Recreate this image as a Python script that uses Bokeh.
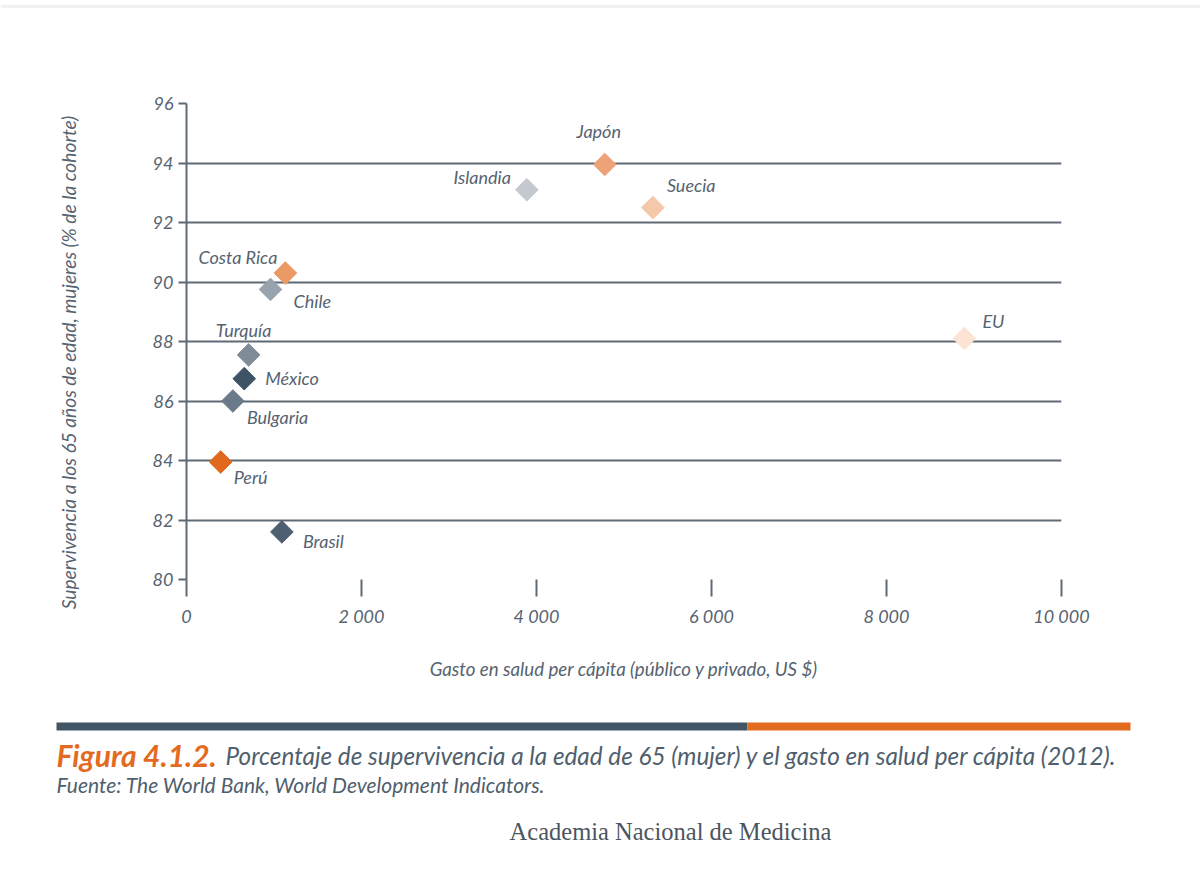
from bokeh.plotting import figure
from bokeh.layouts import column, row
from bokeh.models import ColumnDataSource, FixedTicker, CustomJSTickFormatter, Range1d
from bokeh.core.properties import value
from bokeh.embed import file_html
from bokeh.resources import INLINE
import math

# Data: health spending per capita (US $) vs. female survival to age 65 (% of cohort), 2012
paises = ["Japón", "Islandia", "Suecia", "Costa Rica", "Chile", "EU",
          "Turquía", "México", "Bulgaria", "Perú", "Brasil"]
gasto = [4780, 3890, 5330, 1130, 960, 8890, 710, 660, 530, 390, 1090]
supervivencia = [93.95, 93.1, 92.5, 90.3, 89.75, 88.1, 87.55, 86.75, 86.0, 83.95, 81.6]

x_ticks = [0, 2000, 4000, 6000, 8000, 10000]
y_ticks = [80, 82, 84, 86, 88, 90, 92, 94, 96]

# Marker colours and label placement (pixel offsets / alignment)
colores = ["#eda277", "#c4c9d0", "#f5c8a9", "#ec9a65", "#99a3ad", "#fce3d4",
           "#7f8c98", "#3f5366", "#6b7a88", "#e0691e", "#4d5f70"]
dx = [-6, -16, 14, -8, 23, 18, -5, 21, 14, 13, 21]
dy = [-33, -13, -23, -16, 12, -18, -25, -1, 16, 15, 9]
alin = ["center", "right", "left", "right", "left", "left", "center", "left", "left", "left", "left"]

W = 1200
TOP_H, MAIN_H, CAP_H = 8, 692, 186
STRIP_W = 90

TXT = "#566370"
LINE = "#5e6a74"
FONT = "Lato"


def blank(width, height):
    """A figure whose data coordinates are its own pixels (y grows downward)."""
    f = figure(width=width, height=height, x_range=Range1d(0, width),
               y_range=Range1d(height, 0),
               output_backend="svg", toolbar_location=None,
               x_axis_location=None, y_axis_location=None,
               min_border=0, min_border_left=0, min_border_right=0,
               min_border_top=0, min_border_bottom=0)
    f.frame_align = False
    f.outline_line_color = None
    f.grid.visible = False
    f.background_fill_color = "white"
    f.border_fill_color = "white"
    return f


# thin grey rule across the top of the page
top = blank(W, TOP_H)
top.quad(left=[0], right=[W], top=[0], bottom=[4], fill_color="#f1f1f1", line_color=None)
top.quad(left=[0], right=[W], top=[4], bottom=[6], fill_color="#c4c4c4", line_color=None)

# strip holding the vertical axis title
strip = blank(STRIP_W, MAIN_H)
strip.text(x=[68], y=[354],
           text=["Supervivencia a los 65 años de edad, mujeres (% de la cohorte)"],
           angle=math.pi / 2, text_align="center", text_baseline="middle",
           text_font=value(FONT), text_font_style="italic", text_font_size="19.2px",
           text_color=TXT)

# main scatter chart
p = figure(width=W - STRIP_W, height=MAIN_H, x_range=(0, 10000), y_range=(80, 96),
           output_backend="svg", toolbar_location=None,
           min_border_left=186 - STRIP_W, min_border_right=139,
           min_border_top=95, min_border_bottom=121)
p.frame_align = False
p.outline_line_color = None
p.background_fill_color = "white"
p.border_fill_color = "white"

p.xgrid.visible = False
p.ygrid.ticker = FixedTicker(ticks=y_ticks)
p.ygrid.grid_line_color = LINE
p.ygrid.grid_line_width = 2

ya = p.yaxis[0]
ya.ticker = FixedTicker(ticks=y_ticks)
ya.axis_line_color = LINE
ya.axis_line_width = 2
ya.major_tick_line_color = LINE
ya.major_tick_line_width = 2
ya.major_tick_out = 8
ya.major_tick_in = 0
ya.minor_tick_line_color = None
ya.major_label_standoff = 5
ya.major_label_text_font = FONT
ya.major_label_text_font_style = "italic"
ya.major_label_text_font_size = "18px"
ya.major_label_text_color = TXT

xa = p.xaxis[0]
xa.ticker = FixedTicker(ticks=x_ticks)
xa.formatter = CustomJSTickFormatter(code="""
    const s = Math.round(tick).toString();
    return s.replace(/\\B(?=(\\d{3})+(?!\\d))/g, " ");
""")
xa.axis_line_color = None
xa.major_tick_line_color = LINE
xa.major_tick_line_width = 2
xa.major_tick_out = 17
xa.major_tick_in = 0
xa.minor_tick_line_color = None
xa.major_label_standoff = 8
xa.major_label_text_font = FONT
xa.major_label_text_font_style = "italic"
xa.major_label_text_font_size = "18px"
xa.major_label_text_color = TXT
xa.axis_label = "Gasto en salud per cápita (público y privado, US $)"
xa.axis_label_text_font = FONT
xa.axis_label_text_font_style = "italic"
xa.axis_label_text_font_size = "18.7px"
xa.axis_label_text_color = TXT
xa.axis_label_standoff = 28

src = ColumnDataSource(dict(x=gasto, y=supervivencia, pais=paises, color=colores,
                            dx=dx, dy=dy, alin=alin))

# diamonds: squares turned by 45 degrees
p.scatter("x", "y", source=src, marker="square", size=16, angle=math.pi / 4,
          fill_color="color", line_color="color", line_width=1)

p.text("x", "y", text="pais", source=src, x_offset="dx", y_offset="dy",
       text_align="alin", text_baseline="middle",
       text_font=value(FONT), text_font_style="italic",
       text_font_size="18px", text_color=TXT)

# caption block (coordinates are pixels inside this strip)
cap = blank(W, CAP_H)
cap.quad(left=[56], right=[747], top=[22], bottom=[30], fill_color="#415565", line_color=None)
cap.quad(left=[747], right=[1130], top=[22], bottom=[30], fill_color="#e36b1f", line_color=None)
cap.text(x=[56], y=[54], text=["Figura 4.1.2."], text_baseline="middle", text_align="left",
         text_font=value(FONT), text_font_style="bold italic", text_font_size="30px",
         text_color="#e36b1f")
cap.text(x=[225], y=[55],
         text=["Porcentaje de supervivencia a la edad de 65 (mujer) y el gasto en salud per cápita (2012)."],
         text_baseline="middle", text_align="left",
         text_font=value(FONT), text_font_style="italic", text_font_size="24.3px",
         text_color="#4f5f6e")
cap.text(x=[56], y=[84], text=["Fuente: The World Bank, World Development Indicators."],
         text_baseline="middle", text_align="left",
         text_font=value(FONT), text_font_style="italic", text_font_size="21px",
         text_color="#4f5f6e")
cap.text(x=[670], y=[131], text=["Academia Nacional de Medicina"],
         text_baseline="middle", text_align="center",
         text_font=value("Liberation Serif"), text_font_size="24.5px",
         text_color="#4b5560")

layout = column(top, row(strip, p, spacing=0), cap, spacing=0)
open("out.html", "w").write(file_html(layout, INLINE))
